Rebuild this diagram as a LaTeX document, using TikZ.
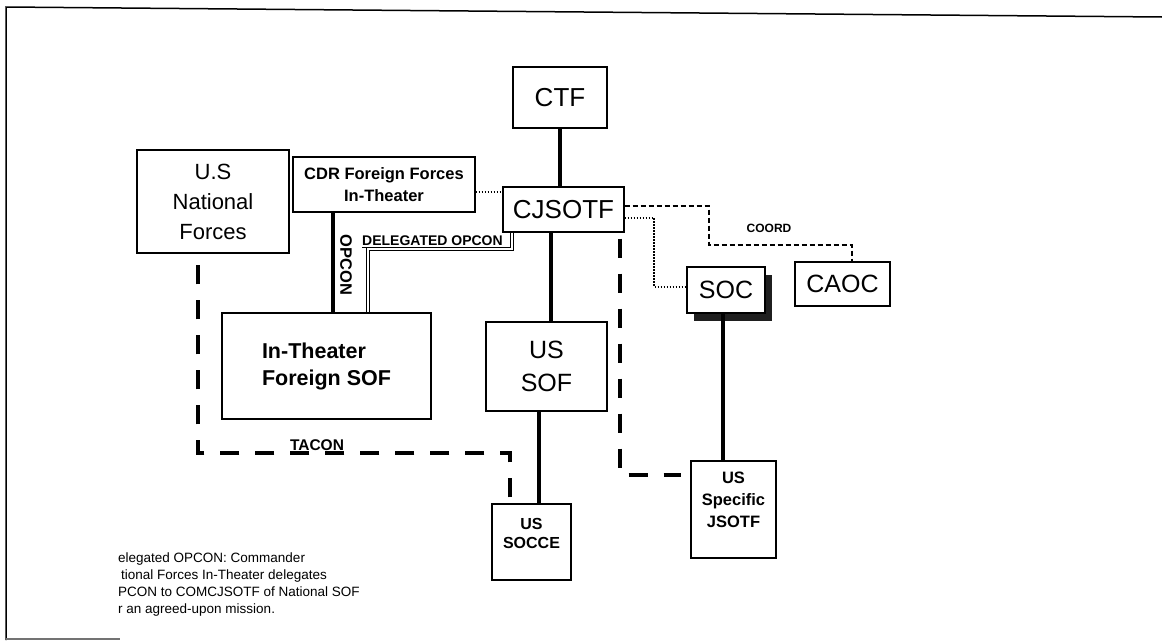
\documentclass[tikz,border=0pt]{standalone}
\usepackage{fontspec}
\setmainfont{Liberation Sans}
\usetikzlibrary{calc}
\newcommand\fsz[2]{\fontsize{#1}{#2}\selectfont}
\begin{document}
\begin{tikzpicture}[x=1pt,y=-1pt,
  box/.style={draw, line width=1.3pt, rectangle, inner sep=0pt, fill=white},
  solidlink/.style={line width=4pt},
  heavydash/.style={line width=4.5pt, dash pattern=on 19pt off 16pt},
  thindash/.style={line width=1.5pt, dash pattern=on 5pt off 3pt},
  dotlink/.style={line width=2pt, dash pattern=on 1.6pt off 1.4pt},
  dbl/.style={double, line width=0.8pt, double distance=2pt},
  lbl/.style={inner sep=0pt, font=\bfseries\fsz{#1}{#1}},
  lbl/.default=14
]
\useasboundingbox (0,0) rectangle (1162,640);
% frame
\draw[line width=1.5pt] (1162,17) -- (6,7) -- (6,640);
\draw[line width=1.2pt, black!55] (6,639) -- (120,639);

% nodes
\node[box, minimum width=94pt, minimum height=61pt, font=\fsz{26}{30}] (ctf) at (560,97.5) {CTF};
\node[box, minimum width=121pt, minimum height=45pt, font=\fsz{26}{30}] (cjsotf) at (563.5,209.5) {CJSOTF};
\node[box, minimum width=152pt, minimum height=103pt, align=center, font=\fsz{22}{30}] (usnf) at (213,201.5) {U.S\\National\\Forces};
\node[box, minimum width=182pt, minimum height=55pt, align=center, font=\bfseries\fsz{16.5}{22}] (cdr) at (384,184.5) {CDR Foreign Forces\\In-Theater};
\node[box, minimum width=209pt, minimum height=106pt, align=left, font=\bfseries\fsz{21.5}{27}] (itf) at (326.5,366) {In-Theater\\Foreign SOF};
\node[box, minimum width=121pt, minimum height=89pt, align=center, font=\fsz{25}{33}] (ussof) at (546.5,366.5) {US\\SOF};
\node[box, minimum width=79pt, minimum height=76pt] (socce) at (531.5,542) {};
\node[inner sep=0pt, anchor=north, align=center, font=\bfseries\fsz{16}{19}] (soccetext) at (531.5,518) {US\\SOCCE};
\node[box, minimum width=85pt, minimum height=97pt] (usjsotf) at (733.5,509.5) {};
\node[inner sep=0pt, anchor=north, align=center, font=\bfseries\fsz{16.5}{22}] (usjsotftext) at (733.5,472) {US\\Specific\\JSOTF};
\fill[black!88] (694,275) rectangle (772,321);
\node[box, minimum width=78pt, minimum height=46pt, font=\fsz{25}{30}] (soc) at (726,290) {SOC};
\node[box, minimum width=95pt, minimum height=44pt, font=\fsz{25}{30}] (caoc) at (842.5,284) {CAOC};

% solid links
\draw[solidlink] (ctf.south) -- (ctf.south |- cjsotf.north);
\draw[solidlink] ([xshift=4.5pt]ussof.north) -- ([xshift=4.5pt]ussof.north |- cjsotf.south);
\draw[solidlink] ([xshift=-7.5pt]ussof.south) -- ([xshift=-7.5pt]ussof.south |- socce.north);
\draw[solidlink] ([xshift=-3.5pt]soc.south) -- ([xshift=-3.5pt]soc.south |- usjsotf.north);
\draw[solidlink] ([xshift=-51pt]cdr.south) -- ([xshift=-51pt]cdr.south |- itf.north);
\node[lbl=16.5, rotate=-90] (opcon) at (346,265) {OPCON};

% delegated opcon
\coordinate (delbend) at (368,249);
\draw[dbl] ([xshift=-51.5pt]cjsotf.south) |- (delbend) -- (delbend |- itf.north);
\node[lbl=14, anchor=base west] (dellbl) at (362,245.5) {\underline{DELEGATED OPCON}};

% dotted links
\draw[dotlink] (cdr.east |- 0,192) -- (cjsotf.west |- 0,192);
\draw[dotlink] (cjsotf.east |- 0,218) -| ($(soc.west)+(-32,-3)$) -- ([yshift=3pt]soc.west);

% coord
\draw[thindash] (cjsotf.east |- 0,206) -| (709,245) -| ([xshift=9.5pt]caoc.north);
\node[lbl=12] (coord) at (769,228) {COORD};

% heavy dashed
\draw[heavydash, shorten <=6pt] ([xshift=-21.5pt]socce.north) -- (510,453) -| ([xshift=-15pt]usnf.south);
\node[lbl=15.5, anchor=base] (tacon) at (317,450.5) {TACON};
\draw[heavydash, shorten <=6pt, shorten >=9pt] ([xshift=56.5pt]cjsotf.south) |- (usjsotf.west |- 0,475);

% note
\node[inner sep=0pt, anchor=base west, align=left, font=\fsz{13.5}{17}] (note) at (118,613)
  {elegated OPCON: Commander\\\hspace*{3pt}tional Forces In-Theater delegates\\PCON to COMCJSOTF of National SOF\\r an agreed-upon mission.};
\end{tikzpicture}
\end{document}
